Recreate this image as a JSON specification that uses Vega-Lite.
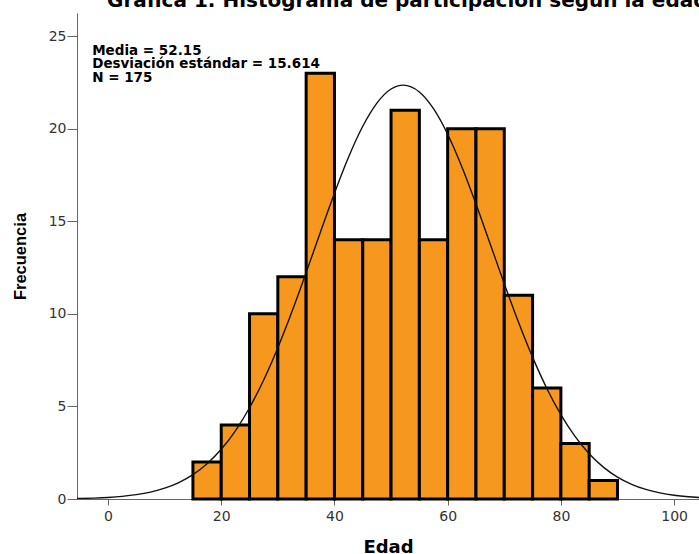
{
  "$schema": "https://vega.github.io/schema/vega-lite/v6.json",
  "width": 622,
  "height": 486,
  "autosize": {"type": "none"},
  "padding": {"left": 77, "top": 13, "right": 0, "bottom": 55},
  "background": "white",
  "title": {
    "text": "Gráfica 1. Histograma de participación según la edad",
    "anchor": "start",
    "frame": "group",
    "font": "DejaVu Sans",
    "fontWeight": "bold",
    "fontSize": 20,
    "color": "#000000",
    "baseline": "alphabetic",
    "offset": 3,
    "dx": 30,
    "dy": 17
  },
  "config": {
    "view": {"stroke": null},
    "axis": {
      "domainColor": "#666666",
      "tickColor": "#666666",
      "labelColor": "#333333",
      "labelFont": "DejaVu Sans",
      "labelFontSize": 14,
      "grid": false,
      "titleColor": "#000000",
      "titleFontWeight": "bold"
    }
  },
  "datasets": {
    "barras": [
      {"inicio": 15, "fin": 20, "frecuencia": 2},
      {"inicio": 20, "fin": 25, "frecuencia": 4},
      {"inicio": 25, "fin": 30, "frecuencia": 10},
      {"inicio": 30, "fin": 35, "frecuencia": 12},
      {"inicio": 35, "fin": 40, "frecuencia": 23},
      {"inicio": 40, "fin": 45, "frecuencia": 14},
      {"inicio": 45, "fin": 50, "frecuencia": 14},
      {"inicio": 50, "fin": 55, "frecuencia": 21},
      {"inicio": 55, "fin": 60, "frecuencia": 14},
      {"inicio": 60, "fin": 65, "frecuencia": 20},
      {"inicio": 65, "fin": 70, "frecuencia": 20},
      {"inicio": 70, "fin": 75, "frecuencia": 11},
      {"inicio": 75, "fin": 80, "frecuencia": 6},
      {"inicio": 80, "fin": 85, "frecuencia": 3},
      {"inicio": 85, "fin": 90, "frecuencia": 1}
    ],
    "curva": [
      {"edad": -6, "densidad": 0.0218},
      {"edad": -5, "densidad": 0.0275},
      {"edad": -2.5, "densidad": 0.0489},
      {"edad": 0, "densidad": 0.0845},
      {"edad": 2.5, "densidad": 0.1425},
      {"edad": 5, "densidad": 0.234},
      {"edad": 7.5, "densidad": 0.3747},
      {"edad": 10, "densidad": 0.5848},
      {"edad": 12.5, "densidad": 0.8896},
      {"edad": 15, "densidad": 1.3188},
      {"edad": 17.5, "densidad": 1.9056},
      {"edad": 20, "densidad": 2.684},
      {"edad": 22.5, "densidad": 3.684},
      {"edad": 25, "densidad": 4.93},
      {"edad": 27.5, "densidad": 6.43},
      {"edad": 30, "densidad": 8.173},
      {"edad": 32.5, "densidad": 10.127},
      {"edad": 35, "densidad": 12.23},
      {"edad": 37.5, "densidad": 14.396},
      {"edad": 40, "densidad": 16.516},
      {"edad": 42.5, "densidad": 18.47},
      {"edad": 45, "densidad": 20.131},
      {"edad": 47.5, "densidad": 21.386},
      {"edad": 50, "densidad": 22.145},
      {"edad": 52.15, "densidad": 22.356},
      {"edad": 55, "densidad": 21.987},
      {"edad": 57.5, "densidad": 21.081},
      {"edad": 60, "densidad": 19.702},
      {"edad": 62.5, "densidad": 17.947},
      {"edad": 65, "densidad": 15.934},
      {"edad": 67.5, "densidad": 13.789},
      {"edad": 70, "densidad": 11.63},
      {"edad": 72.5, "densidad": 9.562},
      {"edad": 75, "densidad": 7.662},
      {"edad": 77.5, "densidad": 5.985},
      {"edad": 80, "densidad": 4.556},
      {"edad": 82.5, "densidad": 3.38},
      {"edad": 85, "densidad": 2.444},
      {"edad": 87.5, "densidad": 1.7235},
      {"edad": 90, "densidad": 1.1844},
      {"edad": 92.5, "densidad": 0.7932},
      {"edad": 95, "densidad": 0.5176},
      {"edad": 97.5, "densidad": 0.3294},
      {"edad": 100, "densidad": 0.2042},
      {"edad": 102.5, "densidad": 0.1234},
      {"edad": 105, "densidad": 0.0727}
    ],
    "estadisticos": [
      {"texto": "Media = 52.15", "x": -2.8, "y": 24.0},
      {"texto": "Desviación estándar = 15.614", "x": -2.8, "y": 23.27},
      {"texto": "N = 175", "x": -2.8, "y": 22.54}
    ]
  },
  "layer": [
    {
      "data": {"name": "barras"},
      "mark": {"type": "rect", "fill": "#F7981E", "stroke": "#000000", "strokeWidth": 3},
      "encoding": {
        "x": {
          "field": "inicio",
          "type": "quantitative",
          "scale": {"domain": [-5.48, 104.4], "nice": false, "zero": false},
          "axis": {
            "title": "Edad",
            "values": [0, 20, 40, 60, 80, 100],
            "tickSize": 6,
            "labelPadding": 4,
            "titleFont": "DejaVu Sans",
            "titleFontSize": 18,
            "titlePadding": 15
          }
        },
        "x2": {"field": "fin"},
        "y": {
          "field": "frecuencia",
          "type": "quantitative",
          "scale": {"domain": [0, 26.25], "nice": false},
          "axis": {
            "title": "Frecuencia",
            "values": [0, 5, 10, 15, 20, 25],
            "tickSize": 10,
            "labelPadding": 1,
            "titleFont": "Liberation Sans",
            "titleFontSize": 16.5,
            "titlePadding": 20
          }
        },
        "y2": {"datum": 0}
      }
    },
    {
      "data": {"name": "curva"},
      "mark": {"type": "line", "color": "#111111", "strokeWidth": 1.4, "interpolate": "monotone", "clip": true},
      "encoding": {
        "x": {"field": "edad", "type": "quantitative"},
        "y": {"field": "densidad", "type": "quantitative"}
      }
    },
    {
      "data": {"name": "estadisticos"},
      "mark": {"type": "text", "align": "left", "baseline": "alphabetic", "font": "DejaVu Sans", "fontWeight": "bold", "fontSize": 13.5, "color": "#000000"},
      "encoding": {
        "x": {"field": "x", "type": "quantitative"},
        "y": {"field": "y", "type": "quantitative"},
        "text": {"field": "texto"}
      }
    }
  ]
}
